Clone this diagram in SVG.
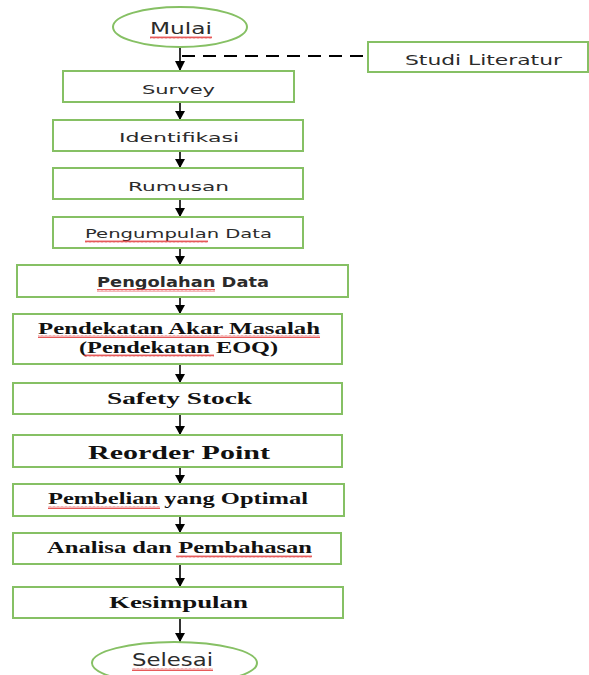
<svg xmlns="http://www.w3.org/2000/svg" width="589" height="675" viewBox="0 0 589 675">
<defs>
<style>
.box{fill:#ffffff;stroke:#86c064;stroke-width:2}
.sans{font-family:"DejaVu Sans","Liberation Sans",sans-serif;fill:#2b2b2b;text-anchor:middle}
.serif{font-family:"Liberation Serif","Times New Roman",serif;font-weight:bold;fill:#111111;text-anchor:middle}
.flow{stroke:#000000;stroke-width:1.6;fill:none;marker-end:url(#ah)}
.dash{stroke:#000000;stroke-width:2;fill:none;stroke-dasharray:13 8}
.wavy{fill:none;stroke:#e03030;stroke-width:0.9}
</style>
<marker id="ah" markerWidth="10" markerHeight="9" refX="5" refY="9" orient="auto-start-reverse" markerUnits="userSpaceOnUse" viewBox="0 0 10 9">
<path d="M0,0 L10,0 L5,9 Z" fill="#000000" transform="rotate(0)"/>
</marker>
<pattern id="wv" width="4" height="3" patternUnits="userSpaceOnUse">
<path d="M0,2.5 L1,0.5 L2,2.5 L3,0.5 L4,2.5" fill="none" stroke="#e03030" stroke-width="0.8"/>
</pattern>
</defs>
<rect width="589" height="675" fill="#ffffff"/>

<g id="connectors">
<path class="dash" d="M182,56 L367,56"/>
<path d="M180,47 L180,71" stroke="#000" stroke-width="1.6"/>
<path d="M180,61 L175,61 L180,71 L185,61 Z" fill="#000"/>
<path d="M180,102 L180,120" stroke="#000" stroke-width="1.6"/>
<path d="M180,111 L175,111 L180,120 L185,111 Z" fill="#000"/>
<path d="M180,151 L180,168" stroke="#000" stroke-width="1.6"/>
<path d="M180,159 L175,159 L180,168 L185,159 Z" fill="#000"/>
<path d="M180,199 L180,217" stroke="#000" stroke-width="1.6"/>
<path d="M180,208 L175,208 L180,217 L185,208 Z" fill="#000"/>
<path d="M180,248 L180,265" stroke="#000" stroke-width="1.6"/>
<path d="M180,256 L175,256 L180,265 L185,256 Z" fill="#000"/>
<path d="M180,297 L180,314" stroke="#000" stroke-width="1.6"/>
<path d="M180,305 L175,305 L180,314 L185,305 Z" fill="#000"/>
<path d="M180,364 L180,383" stroke="#000" stroke-width="1.6"/>
<path d="M180,374 L175,374 L180,383 L185,374 Z" fill="#000"/>
<path d="M180,414 L180,435" stroke="#000" stroke-width="1.6"/>
<path d="M180,426 L175,426 L180,435 L185,426 Z" fill="#000"/>
<path d="M180,467 L180,484" stroke="#000" stroke-width="1.6"/>
<path d="M180,475 L175,475 L180,484 L185,475 Z" fill="#000"/>
<path d="M180,516 L180,533" stroke="#000" stroke-width="1.6"/>
<path d="M180,524 L175,524 L180,533 L185,524 Z" fill="#000"/>
<path d="M180,564 L180,587" stroke="#000" stroke-width="1.6"/>
<path d="M180,578 L175,578 L180,587 L185,578 Z" fill="#000"/>
<path d="M180,618 L180,642" stroke="#000" stroke-width="1.6"/>
<path d="M180,633 L175,633 L180,642 L185,633 Z" fill="#000"/>
</g>

<g id="mulai">
<ellipse class="box" cx="180" cy="27" rx="67" ry="20"/>
<text class="sans" x="181" y="34" font-size="15" textLength="62" lengthAdjust="spacingAndGlyphs">Mulai</text>
<rect x="150" y="36" width="62" height="3" fill="url(#wv)"/>
</g>

<g id="studi-literatur">
<rect class="box" x="368" y="42" width="220" height="30"/>
<text class="sans" x="483.5" y="65" font-size="14" textLength="157" lengthAdjust="spacingAndGlyphs">Studi Literatur</text>
</g>

<g id="survey">
<rect class="box" x="63" y="71" width="231" height="31"/>
<text class="sans" x="178.5" y="94" font-size="13" textLength="73" lengthAdjust="spacingAndGlyphs">Survey</text>
</g>

<g id="identifikasi">
<rect class="box" x="53" y="120" width="250" height="31"/>
<text class="sans" x="179" y="142" font-size="13" textLength="120" lengthAdjust="spacingAndGlyphs">Identifikasi</text>
</g>

<g id="rumusan">
<rect class="box" x="53" y="168" width="250" height="31"/>
<text class="sans" x="178.5" y="191" font-size="13" textLength="101" lengthAdjust="spacingAndGlyphs">Rumusan</text>
</g>

<g id="pengumpulan-data">
<rect class="box" x="53" y="217" width="250" height="31"/>
<text class="sans" x="178.5" y="238" font-size="13" textLength="187" lengthAdjust="spacingAndGlyphs">Pengumpulan Data</text>
<rect x="85" y="240" width="123" height="3" fill="url(#wv)"/>
</g>

<g id="pengolahan-data">
<rect class="box" x="17" y="265" width="331" height="32"/>
<text class="sans" x="183" y="287" font-size="14" font-weight="bold" textLength="172" lengthAdjust="spacingAndGlyphs">Pengolahan Data</text>
<rect x="97" y="289" width="118" height="3" fill="url(#wv)"/>
</g>

<g id="pendekatan-eoq">
<rect class="box" x="13" y="314" width="329" height="50"/>
<text class="serif" x="179" y="334" font-size="17" textLength="282" lengthAdjust="spacingAndGlyphs">Pendekatan Akar Masalah</text>
<text class="serif" x="178.5" y="353" font-size="17" textLength="199" lengthAdjust="spacingAndGlyphs">(Pendekatan EOQ)</text>
<rect x="38" y="335" width="282" height="3" fill="url(#wv)"/>
<rect x="84" y="354" width="130" height="3" fill="url(#wv)"/>
</g>

<g id="safety-stock">
<rect class="box" x="13" y="383" width="329" height="31"/>
<text class="serif" x="179.5" y="404" font-size="17" textLength="145" lengthAdjust="spacingAndGlyphs">Safety Stock</text>
</g>

<g id="reorder-point">
<rect class="box" x="13" y="435" width="329" height="32"/>
<text class="serif" x="179" y="459" font-size="19" textLength="182" lengthAdjust="spacingAndGlyphs">Reorder Point</text>
</g>

<g id="pembelian">
<rect class="box" x="13" y="484" width="331" height="32"/>
<text class="serif" x="178" y="504" font-size="17" textLength="260" lengthAdjust="spacingAndGlyphs">Pembelian yang Optimal</text>
<rect x="48" y="506" width="112" height="3" fill="url(#wv)"/>
</g>

<g id="analisa">
<rect class="box" x="13" y="533" width="328" height="31"/>
<text class="serif" x="179.5" y="553" font-size="16" textLength="265" lengthAdjust="spacingAndGlyphs">Analisa dan Pembahasan</text>
<rect x="176" y="555" width="136" height="3" fill="url(#wv)"/>
</g>

<g id="kesimpulan">
<rect class="box" x="13" y="587" width="330" height="31"/>
<text class="serif" x="178.5" y="608" font-size="17" textLength="139" lengthAdjust="spacingAndGlyphs">Kesimpulan</text>
</g>

<g id="selesai">
<ellipse class="box" cx="174.5" cy="663" rx="82.5" ry="21"/>
<text class="sans" x="172.5" y="666" font-size="18" textLength="81" lengthAdjust="spacingAndGlyphs">Selesai</text>
<rect x="132" y="668" width="81" height="3" fill="url(#wv)"/>
</g>
</svg>
